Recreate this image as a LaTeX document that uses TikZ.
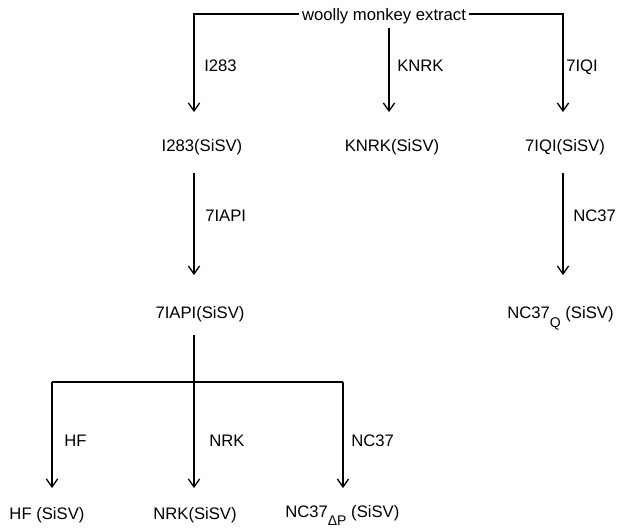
\documentclass[tikz,border=0pt]{standalone}
\usepackage{fontspec}
\setmainfont{Liberation Sans}
\usetikzlibrary{arrows.meta}

\begin{document}
\begin{tikzpicture}[
  x=0.75pt,y=-0.75pt,
  lbl/.style={inner sep=0pt,text height=9pt,text depth=0pt,font=\fontsize{12.5}{15}\selectfont},
  virus/.style={lbl},
  cell/.style={lbl,anchor=west},
  link/.style={line width=1pt,draw=black,line join=miter},
  arr/.style={link,-{Straight Barb[length=6pt,width=8.5pt,line width=1pt]}}
]
\useasboundingbox (0,0) rectangle (617,529);

% source
\node[lbl,inner xsep=2pt] (src) at (384,14) {woolly monkey extract};

% first passage
\node[virus] (n1283) at (202,145) {I283(SiSV)};
\node[virus] (nknrk) at (392,145) {KNRK(SiSV)};
\node[virus] (n7iqi) at (565,145) {7IQI(SiSV)};

% second passage
\node[virus] (n7iapi) at (200,312) {7IAPI(SiSV)};
\node[virus,anchor=west] (nnc37q) at (507,312) {NC37\raisebox{-7pt}{\fontsize{10.5}{12}\selectfont Q} (SiSV)};

% third passage
\node[virus] (nhf) at (47,513) {HF (SiSV)};
\node[virus] (nnrk) at (195,513) {NRK(SiSV)};
\node[virus,anchor=west] (nnc37dp) at (285,511) {NC37\raisebox{-6pt}{\fontsize{10.5}{12}\selectfont ΔP} (SiSV)};

% cell labels on the arrows
\node[cell] (l1283) at (204,65) {I283};
\node[cell] (lknrk) at (397,65) {KNRK};
\node[cell] (l7iqi) at (566,65) {7IQI};
\node[cell] (l7iapi) at (205,215) {7IAPI};
\node[cell] (lnc37) at (573,215) {NC37};
\node[cell] (lhf) at (64,440) {HF};
\node[cell] (lnrk) at (209,440) {NRK};
\node[cell] (lnc37b) at (351,440) {NC37};

% branch points
\coordinate (tl) at (194,14);
\coordinate (tr) at (563,14);
\coordinate (tm) at (389,28);
\coordinate (bj) at (194,382);
\coordinate (bl) at (52,382);
\coordinate (br) at (343,382);

\draw[arr,shorten >=20pt] (src.west) -- (tl) -- (tl |- n1283.north);
\draw[arr,shorten >=20pt] (src.east) -- (tr) -- (tr |- n7iqi.north);
\draw[arr,shorten >=20pt] (tm) -- (tm |- nknrk.north);

\draw[arr,shorten <=16.5pt,shorten >=23pt] (tl |- n1283.south) -- (tl |- n7iapi.north);
\draw[arr,shorten <=16.5pt,shorten >=23pt] (tr |- n7iqi.south) -- (tr |- nnc37q.north);

\draw[link,shorten <=12.5pt] (bj |- n7iapi.south) -- (bj);
\draw[link] (bl) -- (br);
\draw[arr,shorten >=14pt] (bl) -- (bl |- nhf.north);
\draw[arr,shorten >=14pt] (bj) -- (bj |- nnrk.north);
\draw[arr,shorten >=12.5pt] (br) -- (br |- nnc37dp.north);
\end{tikzpicture}
\end{document}
